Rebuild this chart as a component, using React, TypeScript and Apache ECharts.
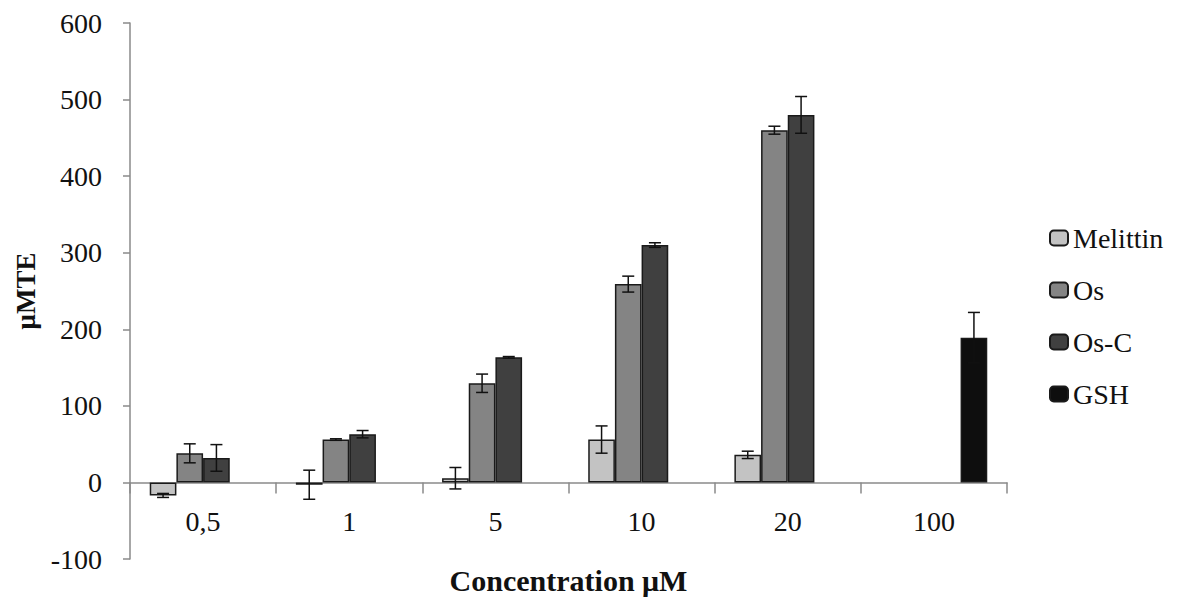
import React, { useEffect, useRef } from "react";
import * as echarts from "echarts";

const categories = ["0,5", "1", "5", "10", "20", "100"];
const seriesNames = ["Melittin", "Os", "Os-C", "GSH"];
const melittin = [-17, -3, 5.5, 56, 36, null];
const melittinErr = [2.6, 19, 14, 17.8, 4.8, null];
const os = [38, 56, 129.5, 259, 460, null];
const osErr = [12.4, 1, 12, 10.4, 5.2, null];
const osC = [32, 63, 163.4, 310, 480, null];
const osCErr = [17.4, 4.8, 1, 3, 24, null];
const gsh = [null, null, null, null, null, 189];
const gshErr = [null, null, null, null, null, 33];
const yTicks = { min: -100, max: 600, interval: 100 };

const colors = ["#c3c3c3", "#848484", "#404040", "#0e0e0e"];
const FONT = "Liberation Serif";
const GAP = 0.27;

export default function App() {
  const ref = useRef<HTMLDivElement>(null);
  useEffect(() => {
    if (!ref.current) return;
    const chart = echarts.init(ref.current, undefined, { renderer: "svg" });
    const values = [melittin, os, osC, gsh];
    const errs = [melittinErr, osErr, osCErr, gshErr];

    const barSeries = seriesNames.map((name, i) => ({
      name,
      type: "bar",
      data: values[i],
      barGap: "0%",
      barCategoryGap: GAP * 100 + "%",
      itemStyle: { color: colors[i], borderColor: "#1a1a1a", borderWidth: 1.5 },
      z: 2,
    }));

    const errSeries = seriesNames.map((name, i) => ({
      name: name + " error",
      type: "custom",
      z: 5,
      encode: { x: 0, y: [1, 2] },
      data: values[i]
        .map((v, k) => (v == null || errs[i][k] == null ? null : [k, (v as number) - (errs[i][k] as number), (v as number) + (errs[i][k] as number)]))
        .filter((d) => d != null),
      renderItem: (params: any, api: any) => {
        const cat = api.value(0);
        const lo = api.coord([cat, api.value(1)]);
        const hi = api.coord([cat, api.value(2)]);
        const band = api.size([1, 0])[0];
        const inner = band * (1 - GAP);
        const bw = inner / 4;
        const x = lo[0] - inner / 2 + (i + 0.5) * bw;
        const cap = 6;
        const style = { stroke: "#111", lineWidth: 1.5 };
        return {
          type: "group",
          children: [
            { type: "line", shape: { x1: x, y1: lo[1], x2: x, y2: hi[1] }, style },
            { type: "line", shape: { x1: x - cap, y1: lo[1], x2: x + cap, y2: lo[1] }, style },
            { type: "line", shape: { x1: x - cap, y1: hi[1], x2: x + cap, y2: hi[1] }, style },
          ],
        };
      },
    }));

    chart.setOption({
      animation: false,
      backgroundColor: "#ffffff",
      textStyle: { fontFamily: FONT },
      grid: { left: 130, top: 23, width: 877, height: 536, containLabel: false, outerBoundsMode: "none" },
      legend: {
        data: seriesNames,
        orient: "vertical",
        left: 1049,
        top: 224,
        padding: 0,
        itemWidth: 18,
        itemHeight: 15,
        itemGap: 24,
        textStyle: { fontFamily: FONT, fontSize: 28, color: "#111", lineHeight: 28 },
      },
      xAxis: [
        {
          type: "category",
          data: categories,
          axisLine: { onZero: true, lineStyle: { color: "#8a8a8a", width: 1.5 } },
          axisTick: { show: true, length: 11, lineStyle: { color: "#8a8a8a", width: 1.5 } },
          axisLabel: { show: false },
          splitLine: { show: false },
        },
        {
          type: "category",
          data: categories,
          position: "bottom",
          offset: -63,
          axisLine: { show: false, onZero: false },
          axisTick: { show: false },
          axisLabel: { fontFamily: FONT, fontSize: 28, color: "#111", margin: 11 },
          name: "Concentration μM",
          nameLocation: "middle",
          nameGap: 69,
          nameTextStyle: { fontFamily: FONT, fontSize: 30, fontWeight: "bold", color: "#111" },
          splitLine: { show: false },
        },
      ],
      yAxis: {
        type: "value",
        min: yTicks.min,
        max: yTicks.max,
        interval: yTicks.interval,
        axisLine: { show: true, lineStyle: { color: "#8a8a8a", width: 1.5 } },
        axisTick: { show: true, length: 7, lineStyle: { color: "#8a8a8a", width: 1.5 } },
        axisLabel: { fontFamily: FONT, fontSize: 28, color: "#111", margin: 28 },
        splitLine: { show: false },
        name: "μMTE",
        nameLocation: "middle",
        nameRotate: 90,
        nameGap: 84,
        nameTextStyle: { fontFamily: FONT, fontSize: 27, fontWeight: "bold", color: "#111" },
      },
      series: [...barSeries, ...errSeries],
    });
    return () => chart.dispose();
  }, []);
  return <div ref={ref} style={{ width: 1188, height: 603, position: "absolute", left: 0, top: 0 }} />;
}
